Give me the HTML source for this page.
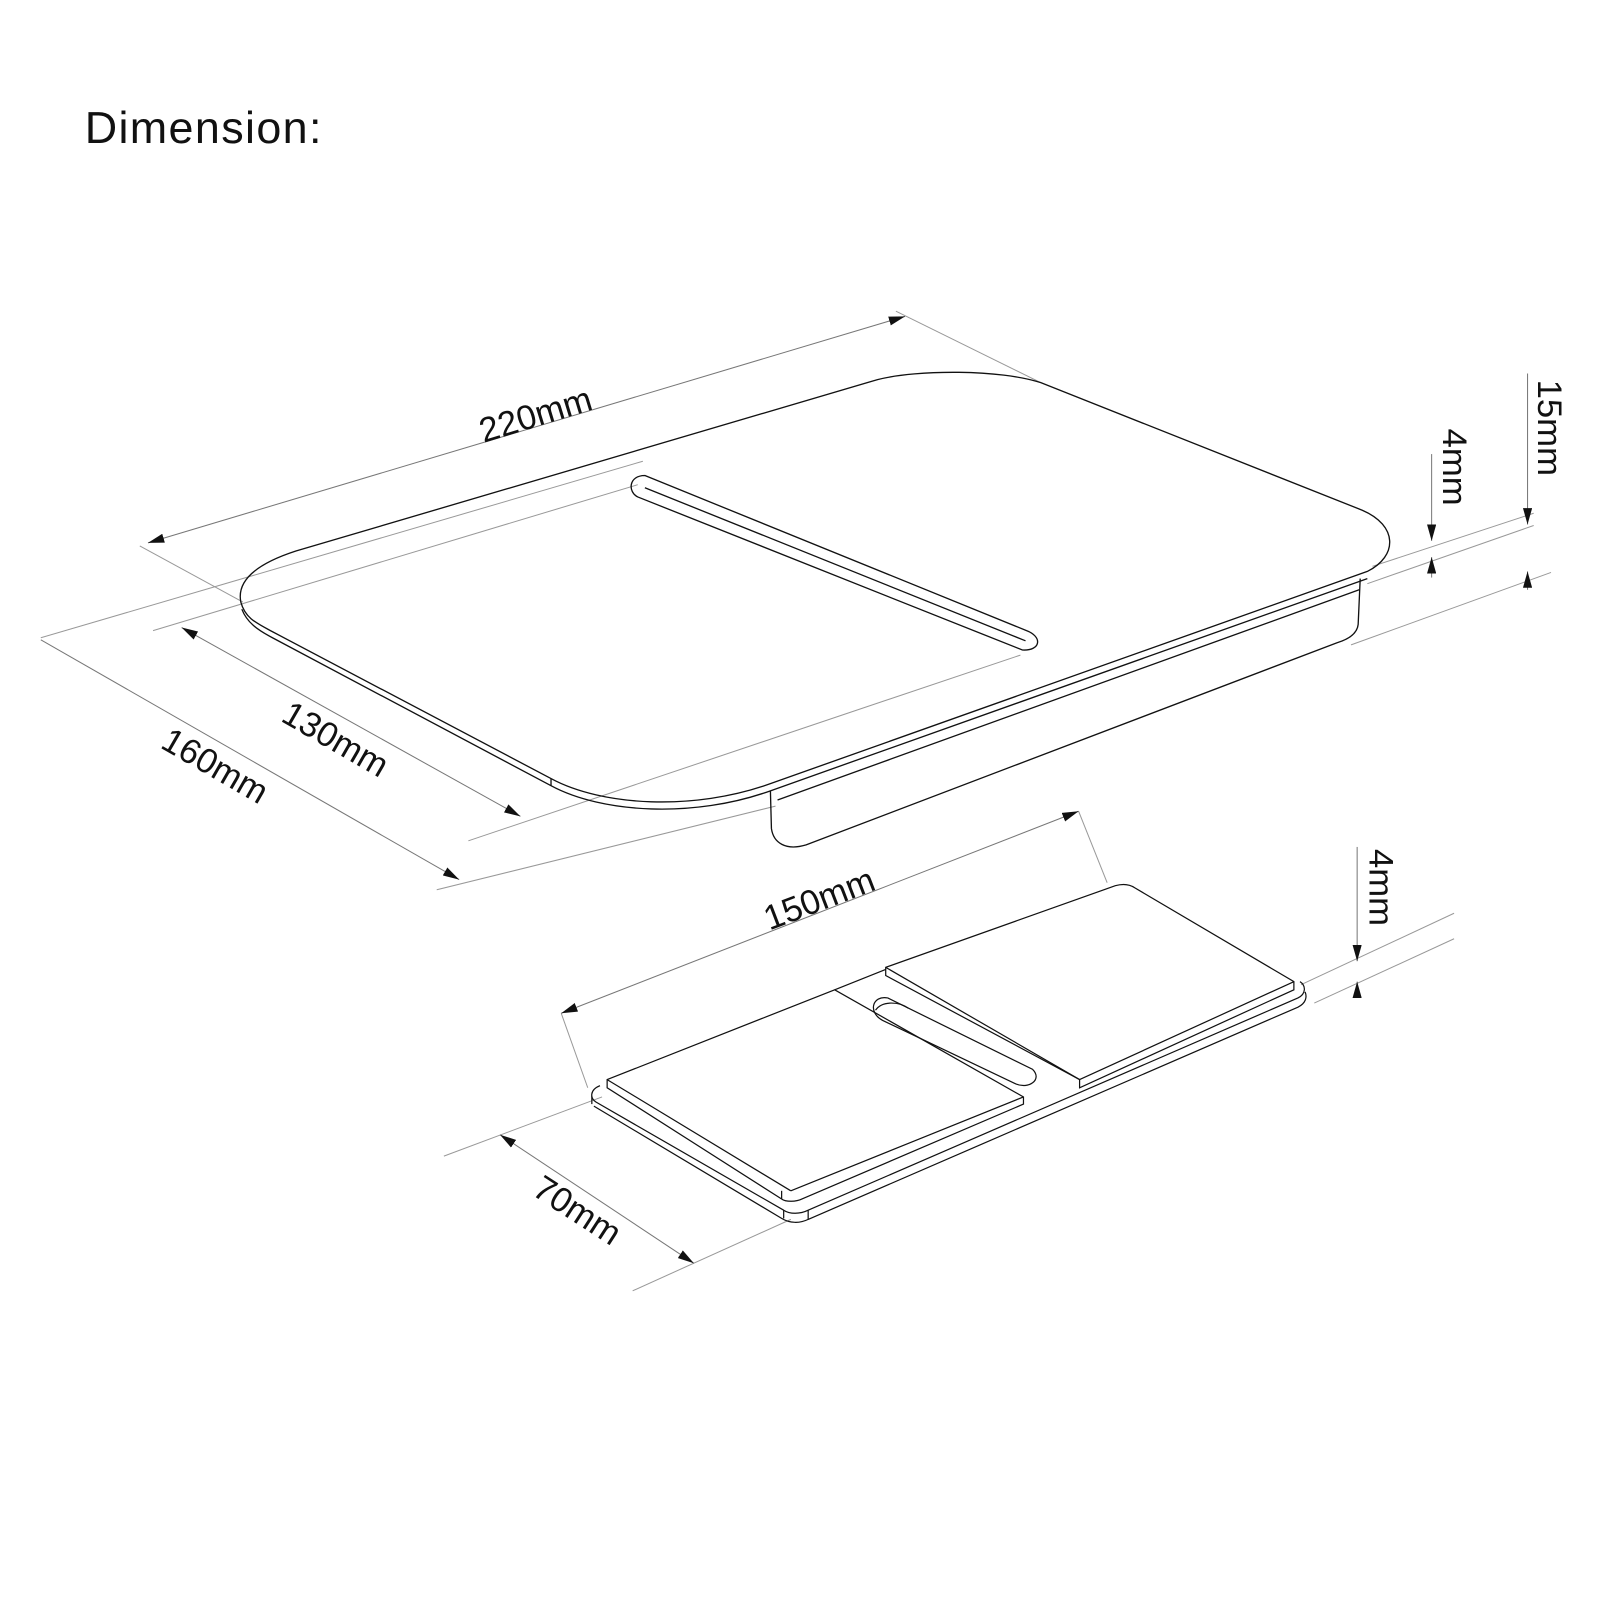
<!DOCTYPE html>
<html><head><meta charset="utf-8"><style>
html,body{margin:0;padding:0;background:#fff;}
svg{display:block;}
text{font-family:"Liberation Sans",sans-serif;fill:#111;}
</style></head><body>
<svg width="1600" height="1600" viewBox="0 0 1568 1568" xmlns="http://www.w3.org/2000/svg">
<defs>
<marker id="a" markerWidth="16" markerHeight="9" refX="16" refY="4.5" orient="auto" markerUnits="userSpaceOnUse">
<path d="M0,0 L16,4.5 L0,9 Z" fill="#111"/></marker>
<marker id="b" markerWidth="16" markerHeight="9" refX="0" refY="4.5" orient="auto" markerUnits="userSpaceOnUse">
<path d="M16,0 L0,4.5 L16,9 Z" fill="#111"/></marker>
</defs>
<text x="83" y="140" font-size="44" textLength="232">Dimension:</text>

<g stroke="#999" stroke-width="1" fill="none">
<line x1="137" y1="535" x2="238" y2="590"/>
<line x1="878" y1="305" x2="1020" y2="375"/>
<line x1="40" y1="625" x2="630" y2="452"/>
<line x1="150" y1="618" x2="625" y2="475"/>
<line x1="459" y1="824" x2="1000" y2="642"/>
<line x1="428" y1="872" x2="760" y2="790"/>
<line x1="1345" y1="555" x2="1503" y2="503"/>
<line x1="1340" y1="572" x2="1503" y2="515"/>
<line x1="1324" y1="632" x2="1520" y2="561"/>
<line x1="550" y1="993" x2="576" y2="1066"/>
<line x1="1057" y1="795" x2="1085" y2="865"/>
<line x1="435" y1="1133" x2="590" y2="1075"/>
<line x1="620" y1="1265" x2="775" y2="1195"/>
<line x1="1275" y1="965" x2="1425" y2="895"/>
<line x1="1288" y1="983" x2="1425" y2="920"/>
</g>
<g stroke="#777" stroke-width="1" fill="none">
<line x1="145" y1="532" x2="887" y2="310" marker-start="url(#b)" marker-end="url(#a)"/>
<line x1="178" y1="615" x2="510" y2="800" marker-start="url(#b)" marker-end="url(#a)"/>
<line x1="40" y1="627" x2="450" y2="862" marker-end="url(#a)"/>
<line x1="1403" y1="445" x2="1403" y2="530" marker-end="url(#a)"/>
<line x1="1403" y1="566" x2="1403" y2="546" marker-end="url(#a)"/>
<line x1="1497" y1="366" x2="1497" y2="514" marker-end="url(#a)"/>
<line x1="1497" y1="578" x2="1497" y2="560" marker-end="url(#a)"/>
<line x1="550" y1="993" x2="1057" y2="795" marker-start="url(#b)" marker-end="url(#a)"/>
<line x1="490" y1="1112" x2="680" y2="1238" marker-start="url(#b)" marker-end="url(#a)"/>
<line x1="1330" y1="830" x2="1330" y2="942" marker-end="url(#a)"/>
<line x1="1330" y1="978" x2="1330" y2="962" marker-end="url(#a)"/>
</g>

<g stroke="#111" stroke-width="1.3" fill="none">
<path d="M290,540 C250,553 232,570 236,590 C240,605 250,610 265,618 L540,763 C590,790 680,795 755,768 L1340,560 C1370,545 1370,515 1335,500 L1020,375 C980,362 900,362 860,372 Z"/>
<path d="M237,597 C242,610 252,617 267,625 L540,770 C590,797 680,802 755,775 L1340,567"/>
<line x1="540" y1="763" x2="540" y2="770"/>
<path d="M1333,567 L1331,612 C1330,622 1320,627 1310,630 L790,828 C770,834 758,826 756,812 L755,775"/>
<line x1="762" y1="784" x2="1332" y2="578"/>
<path d="M632,466 L1006,618 C1022,624 1020,638 1002,637 L625,487 C615,482 616,466 632,466 Z"/>
<line x1="632" y1="478" x2="1005" y2="628"/>
</g>

<g stroke="#111" stroke-width="1.2" fill="none">
<path d="M588,1064 C578,1068 578,1076 584,1080 L768,1186 C774,1190 784,1190 792,1186 L1272,978 C1280,974 1280,966 1274,962"/>
<path d="M582,1084 L766,1194 C774,1199 784,1199 792,1195 L1272,987 C1280,983 1281,977 1279,972"/>
<line x1="580" y1="1074" x2="580" y2="1082"/>
<line x1="768" y1="1186" x2="768" y2="1194"/>
<line x1="792" y1="1186" x2="792" y2="1195"/>
<path d="M595,1058 L818,970 L1003,1075 L1003,1082 L786,1175 C780,1178 770,1178 766,1175 L595,1066 Z"/>
<line x1="595" y1="1058" x2="775" y2="1167"/>
<line x1="775" y1="1167" x2="1003" y2="1075"/>
<line x1="766" y1="1167" x2="766" y2="1175"/>
<path d="M868,948 L1093,868 C1100,866 1106,866 1112,870 L1268,962 L1268,970 L1058,1066 L1058,1058 L868,956 Z"/>
<line x1="868" y1="948" x2="1058" y2="1058"/>
<line x1="1058" y1="1058" x2="1268" y2="962"/>
<line x1="818" y1="970" x2="868" y2="950"/>
<path d="M870,978 L1012,1048 C1022,1058 1008,1068 995,1062 L865,1000 C850,992 855,975 870,978 Z"/>
<path d="M858,990 C865,980 882,982 890,988"/>
</g>

<text font-size="34" transform="translate(474,434) rotate(-17)">220mm</text>
<text font-size="34" transform="translate(274,706) rotate(30)">130mm</text>
<text font-size="34" transform="translate(156,732) rotate(30)">160mm</text>
<text font-size="34" transform="translate(754,912) rotate(-21)">150mm</text>
<text font-size="34" transform="translate(520,1170) rotate(33)">70mm</text>
<text font-size="34" transform="translate(1414,420) rotate(90)">4mm</text>
<text font-size="34" transform="translate(1507,372) rotate(90)">15mm</text>
<text font-size="34" transform="translate(1342,832) rotate(90)">4mm</text>
</svg>
</body></html>
